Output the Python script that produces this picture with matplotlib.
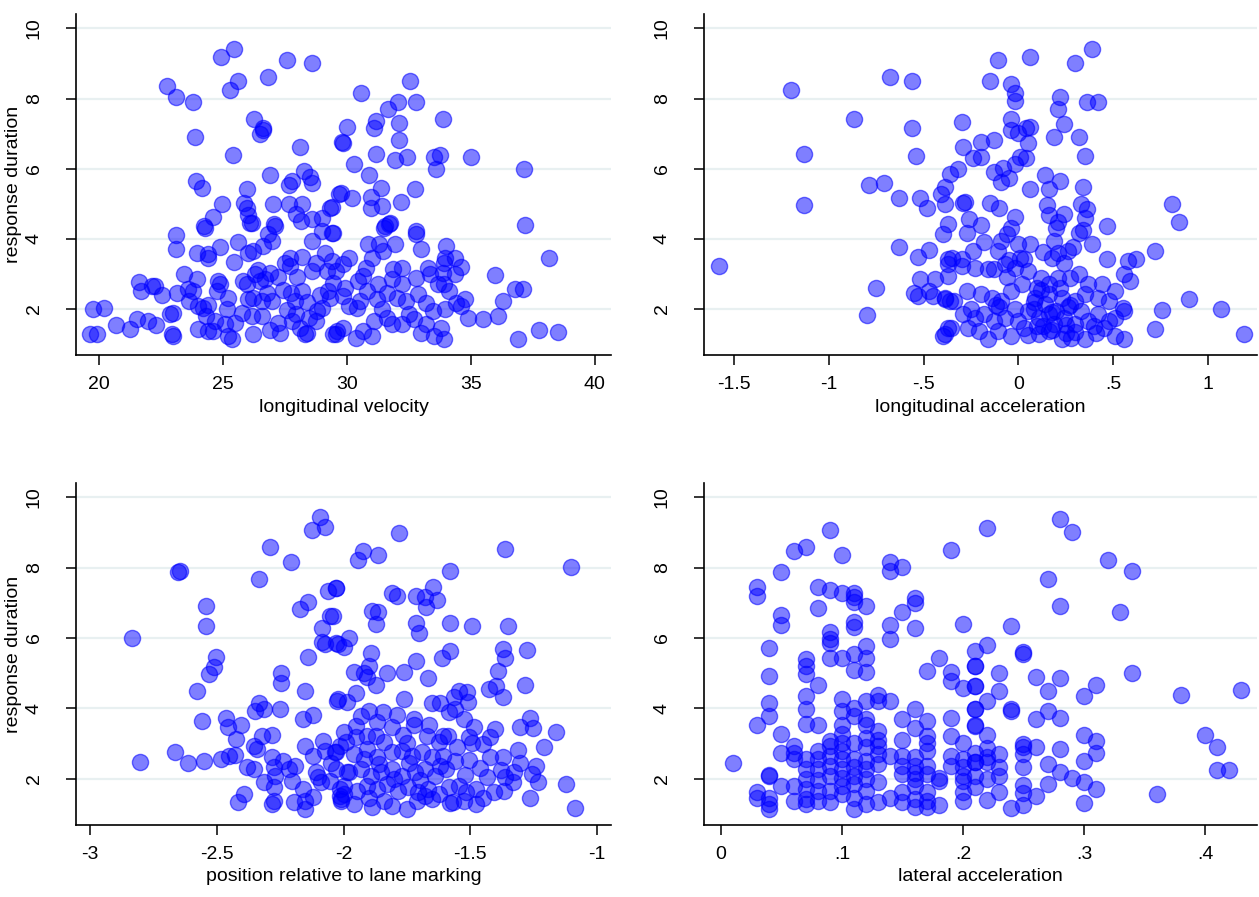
import matplotlib
matplotlib.use('Agg')
import matplotlib.pyplot as plt

plt.rcParams['font.family'] = ['Liberation Sans', 'DejaVu Sans']

# response duration vs longitudinal velocity
vel_x = [22.74, 23.1, 23.8, 23.87, 24.9, 25.44, 25.6, 25.3, 26.8, 27.6, 28.6, 26.25, 26.6, 26.5, 26.6,
         25.4, 28.1, 23.9, 24.15, 26.9, 28.27, 27.8, 27.66, 28.5, 28.6, 25.97, 24.96, 24.6, 24.23, 25.85,
         25.97, 26.0, 26.17, 27.0, 27.06, 27.66, 28.2, 27.94, 28.15, 28.6, 29.0, 29.3, 29.68,
         30.56, 32.54, 32.06, 31.65, 32.78, 33.87, 30.0, 31.17, 31.1, 32.1, 32.1, 29.84, 29.8, 31.17,
         31.94, 32.42, 33.5, 33.75, 33.6, 35.0, 37.14, 30.28, 30.89, 31.37, 29.76, 30.2, 30.97, 30.97,
         31.4, 32.18, 32.74, 29.4, 31.73, 31.53, 37.2, 32.8,
         23.1, 23.1, 24.27, 23.95, 24.4, 24.4, 24.88, 25.6, 25.44, 26.0, 26.2, 26.6, 26.8, 26.97, 27.1,
         26.1, 27.7, 28.2, 27.7, 28.6, 29.0, 29.4, 29.1, 23.43, 23.95, 21.6, 21.7, 22.14, 22.26, 22.54,
         23.14, 23.6, 23.8, 23.63, 24.0, 24.2, 24.4, 24.8, 24.88, 24.76, 25.2, 25.16, 25.8, 25.97, 26.3,
         26.5, 26.7, 26.9, 26.0, 26.2, 26.57, 26.77, 26.97, 25.77, 26.17, 26.57, 27.4, 27.76, 27.9, 28.2,
         27.6, 27.94, 28.47, 28.75, 28.6, 29.2, 29.43, 29.23, 28.75, 19.76, 20.2, 19.64, 19.9, 20.7,
         21.25, 21.53, 21.97, 22.3, 22.86, 23.0, 22.94, 23.0, 24.0, 24.4, 24.6, 24.68, 25.08, 25.2,
         25.36, 26.2, 27.3, 27.8, 28.1, 28.3, 28.4, 29.43, 29.6, 28.8, 29.0, 29.4,
         29.44, 31.5, 31.7, 32.8, 30.85, 31.29, 31.94, 31.45, 30.1, 31.0, 33.97, 34.35, 33.9, 38.16,
         29.84, 29.56, 30.77, 30.65, 30.44, 31.85, 32.2, 31.8, 33.27, 33.35, 33.87, 34.35, 32.78, 35.97,
         31.25, 32.2, 33.67, 33.9, 36.77, 37.1, 36.3, 29.3, 29.84, 30.1, 30.4, 30.52, 31.2, 31.6, 32.0,
         32.4, 32.86, 33.2, 33.45, 33.95, 34.4, 34.75, 34.6, 34.9, 35.5, 36.1, 29.84, 29.56, 30.36,
         30.65, 31.0, 31.1, 31.6, 31.8, 32.2, 32.5, 33.0, 33.2, 33.5, 33.8, 33.9, 36.9, 37.76, 38.5,
         26.4, 27.2, 27.5, 28.0, 28.4, 28.9, 27.2, 26.9, 25.5, 24.3, 29.9, 30.8, 31.4, 32.7, 34.1,
         34.6, 34.0, 33.0]
vel_y = [8.37, 8.03, 7.91, 6.91, 9.17, 9.4, 8.49, 8.23, 8.6, 9.09, 9.0, 7.43, 7.1, 7.0, 7.15,
         6.4, 6.63, 5.66, 5.46, 5.83, 5.94, 5.66, 5.54, 5.77, 5.6, 5.43, 5.0, 4.63, 4.37, 5.03,
         4.89, 4.69, 4.46, 5.0, 4.43, 5.0, 5.0, 4.71, 4.51, 4.57, 4.6, 4.89, 5.29,
         8.17, 8.51, 7.89, 7.69, 7.91, 7.43, 7.2, 7.37, 7.17, 7.29, 6.83, 6.74, 6.76, 6.43,
         6.26, 6.34, 6.34, 6.4, 6.0, 6.34, 6.0, 6.14, 5.83, 5.46, 5.31, 5.17, 5.2, 4.89,
         4.94, 5.06, 5.43, 4.91, 4.46, 4.37, 4.4, 4.23,
         4.11, 3.71, 4.31, 3.6, 3.57, 3.46, 3.77, 3.91, 3.34, 3.6, 3.66, 3.8, 4.14, 3.94, 4.37,
         4.46, 3.46, 3.49, 3.23, 3.94, 4.23, 4.17, 3.6, 3.0, 2.86, 2.77, 2.51, 2.66, 2.66, 2.4,
         2.46, 2.57, 2.51, 2.23, 2.09, 2.03, 2.11, 2.8, 2.71, 2.51, 2.31, 2.0, 2.8, 2.71, 3.0,
         2.8, 2.86, 3.03, 2.29, 2.31, 2.23, 2.46, 2.23, 1.89, 1.8, 1.8, 2.54, 2.46, 2.23, 2.51,
         1.97, 1.86, 1.74, 1.66, 3.09, 3.09, 2.74, 2.51, 3.31, 2.0, 2.03, 1.29, 1.29, 1.54,
         1.43, 1.71, 1.66, 1.54, 1.86, 1.89, 1.29, 1.23, 1.43, 1.37, 1.37, 1.66, 1.57, 1.23,
         1.14, 1.29, 1.31, 1.66, 1.46, 1.29, 1.31, 1.29, 1.37, 1.94, 2.03, 3.37,
         4.17, 4.31, 4.43, 4.14, 3.86, 3.86, 3.86, 3.66, 3.46, 3.46, 3.46, 3.46, 3.31, 3.46,
         3.29, 3.09, 3.17, 2.94, 2.8, 3.14, 3.17, 2.86, 3.17, 3.0, 3.03, 3.0, 2.89, 2.97,
         2.71, 2.71, 2.71, 2.71, 2.57, 2.57, 2.23, 2.31, 2.37, 2.09, 2.03, 2.23, 2.29, 2.46, 2.31,
         2.23, 2.43, 2.17, 1.94, 2.0, 2.17, 2.29, 2.09, 1.74, 1.71, 1.8, 1.46, 1.29, 1.17,
         1.37, 1.23, 1.66, 1.74, 1.57, 1.57, 1.86, 1.31, 1.57, 1.23, 1.46, 1.14, 1.14, 1.4, 1.34,
         3.1, 2.9, 3.3, 2.9, 2.2, 2.4, 1.6, 1.4, 1.6, 1.8, 2.6, 2.5, 2.0, 1.7, 2.5,
         3.2, 3.8, 3.7]

# response duration vs longitudinal acceleration
acc_x = [-1.20, -0.68, -0.56, -0.87, -0.56, -1.13, -0.54, -0.79, -0.71, -0.63, -0.52, -0.48, -0.41,
         -0.39, -0.36, -0.39, -1.13, -0.37, -0.40, -1.58, -0.63, -0.53, -0.47, -0.37, -0.52, -0.44,
         -0.37, -0.75, -0.55, -0.53, -0.47, -0.45, -0.39, -0.36, -0.80, -0.40, -0.37,
         -0.11, 0.06, 0.30, 0.39, -0.15, -0.04, -0.02, -0.02, 0.22, 0.21, 0.24, 0.36, 0.42, -0.30,
         -0.04, -0.04, 0.00, 0.04, 0.06, 0.05, 0.19, 0.32, 0.35, -0.29, -0.20, -0.13, -0.24, -0.20,
         0.01, 0.04, -0.02, -0.32, -0.13, -0.08, -0.09, -0.05, 0.14, 0.22, 0.16, 0.06, 0.34, -0.29,
         -0.28, -0.15, -0.10, 0.15, 0.16, 0.33, 0.36, 0.35, 0.24, 0.21, 0.20, 0.19, -0.02, -0.04,
         -0.06, -0.09, -0.26, -0.20, -0.27, 0.47, 0.32, 0.34, 0.29, 0.39, -0.18, -0.11, 0.00, 0.06,
         0.13, -0.24, -0.35, -0.30, -0.05, 0.01, 0.03, 0.18, 0.21, 0.26, 0.24, 0.47, 0.58, 0.62,
         0.56, 0.59, 0.72, 0.81, 0.85, 0.90, 0.76, 1.07, 0.72, 1.19,
         -0.37, -0.30, -0.23, -0.16, -0.13, -0.07, -0.02, 0.05, 0.12, 0.16, 0.21, 0.27, 0.32, 0.37,
         0.44, 0.51,
         -0.39, -0.34, -0.27, -0.20, -0.14, -0.09, -0.04, 0.02, 0.09, 0.16, 0.23, 0.30, 0.35, 0.42,
         0.48, 0.55,
         -0.29, -0.23, -0.18, -0.13, -0.07, 0.00, 0.05, 0.11, 0.16, 0.19, 0.24, 0.30, 0.37, 0.42,
         0.48, 0.51, 0.56,
         -0.355, -0.265, -0.21, -0.16, -0.11, -0.04, 0.03, 0.11, 0.16, 0.23, 0.28, 0.35, 0.41, 0.51,
         0.56, -0.39,
         -0.25, -0.12, 0.08, 0.13, 0.27, 0.18, 0.10, -0.06, 0.25, 0.40,
         0.08, 0.14, 0.20, 0.26, 0.33, 0.10, 0.18, 0.25, 0.30, -0.02, -0.10, 0.45, 0.12, 0.22, 0.05]
acc_y = [8.23, 8.60, 8.51, 7.43, 7.17, 6.43, 6.37, 5.54, 5.60, 5.17, 5.17, 4.89, 5.29,
         5.49, 5.86, 5.00, 4.97, 4.43, 4.14, 3.23, 3.77, 3.49, 3.69, 3.43, 2.86, 2.86,
         2.94, 2.60, 2.46, 2.37, 2.51, 2.37, 2.29, 2.23, 1.83, 1.23, 1.46,
         9.09, 9.17, 9.00, 9.40, 8.49, 8.40, 8.17, 7.94, 8.03, 7.69, 7.26, 7.89, 7.91, 7.34,
         7.43, 7.09, 7.03, 7.17, 7.20, 6.74, 6.91, 6.91, 6.37, 6.63, 6.77, 6.83, 6.29, 6.34,
         6.34, 6.31, 6.14, 6.00, 5.91, 6.03, 5.63, 5.74, 5.83, 5.66, 5.43, 5.43, 5.49, 5.03,
         5.06, 5.03, 4.89, 4.97, 4.69, 5.00, 4.86, 4.60, 4.71, 4.49, 4.31, 3.94, 4.63, 4.31,
         4.14, 3.94, 4.57, 4.40, 4.17, 4.37, 4.17, 4.26, 3.77, 3.86, 3.91, 3.66, 3.86, 3.86,
         3.63, 3.66, 3.46, 3.43, 3.40, 3.46, 3.43, 3.46, 3.60, 3.66, 3.31, 3.43, 3.37, 3.43,
         3.00, 2.80, 3.66, 5.00, 4.49, 2.29, 1.97, 2.00, 1.43, 1.29,
         3.29, 3.23, 3.17, 3.14, 3.14, 3.29, 3.17, 3.09, 2.89, 2.71, 2.89, 2.89, 3.00, 2.71,
         2.71, 2.51,
         2.31, 2.23, 2.51, 2.43, 2.31, 2.23, 2.51, 2.71, 2.31, 2.43, 2.31, 2.23, 2.43, 2.31,
         2.23, 2.03,
         1.86, 1.74, 1.86, 1.66, 1.74, 1.66, 1.94, 1.74, 1.86, 1.57, 1.74, 1.57, 1.66, 1.86,
         1.66, 1.74, 1.94,
         1.46, 1.46, 1.37, 1.14, 1.37, 1.23, 1.46, 1.29, 1.37, 1.15, 1.17, 1.15, 1.31, 1.23,
         1.15, 1.29,
         2.0, 2.1, 2.2, 1.5, 2.1, 1.9, 2.6, 2.9, 1.3, 1.5,
         2.0, 2.15, 1.95, 2.05, 1.95, 1.5, 1.4, 1.55, 1.35, 2.0, 2.05, 1.45, 2.55, 2.6, 1.25]

# response duration vs position relative to lane marking
pos_x = [-2.093, -2.125, -2.073, -2.29, -2.206, -2.335, -2.653, -2.645, -2.06, -2.03, -2.544, -2.544,
         -2.173, -2.141, -2.052, -2.085, -2.085, -2.073, -2.028, -2.835, -2.504, -2.512, -2.532,
         -2.141, -2.246, -2.246, -2.58, -2.153, -2.024, -2.335, -2.35, -2.315, -2.25, -2.56, -2.464,
         -2.456, -2.403, -2.161, -2.121, -2.423, -2.355, -2.323, -2.282, -2.343, -2.665, -2.802,
         -2.613, -2.552, -2.484, -2.452, -2.427, -2.383, -2.355, -2.282, -2.274, -2.27, -2.315,
         -2.274, -2.153, -2.121, -2.08, -2.073, -2.032, -2.012, -2.214, -2.19, -2.202, -2.161,
         -2.109, -2.089, -2.052, -2.012, -2.391, -2.415, -2.274, -2.282, -2.194, -2.153, -2.153,
         -2.121, -2.012, -2.008,
         -1.782, -1.923, -1.944, -1.863, -1.363, -1.1, -1.581, -2.028, -1.81, -1.79, -1.714, -1.677,
         -1.645, -1.629, -1.673, -1.887, -1.863, -1.871, -1.714, -1.702, -1.581, -1.492, -1.351,
         -2.04, -1.98, -2.02, -2.0, -1.891, -1.899, -1.96, -1.919, -1.907, -1.871, -1.827, -1.762,
         -1.714, -1.665, -1.613, -1.581, -1.371, -1.363, -1.274, -1.391, -1.427, -1.399, -1.371,
         -1.282, -1.952, -2.02, -1.988, -1.762, -1.649, -1.621, -1.565, -1.544, -1.512, -1.508,
         -1.585, -1.56, -1.899, -1.843, -1.79, -1.931, -1.867, -1.81, -1.722, -1.722, -1.661,
         -1.766, -1.524, -1.484, -1.403, -1.423, -1.302, -1.262, -1.25, -1.161, -2.0, -1.952,
         -1.907, -1.871, -1.839, -1.992, -2.028, -1.669, -1.609, -1.589, -1.625, -1.504, -1.492,
         -1.448, -1.21, -1.31, -1.371, -1.504, -1.96, -1.907, -1.867, -1.81, -1.77, -1.73, -1.69,
         -1.649, -1.609, -1.302, -1.242, -1.254, -1.327, -1.363, -1.234, -1.121, -2.028, -1.988,
         -1.931, -1.891, -1.851, -1.81, -1.77, -1.718, -1.677, -1.637, -1.597,
         -2.0, -1.948, -1.907, -1.867, -1.827, -1.786, -1.746, -1.706, -1.665, -1.625, -1.585,
         -1.544, -1.516, -1.476, -1.435, -1.407, -1.367,
         -2.008, -1.96, -1.887, -1.81, -1.75, -1.71, -1.649, -1.569, -1.524, -1.476, -1.262, -1.085,
         -2.05, -1.98, -1.92, -1.86, -1.80, -1.74, -1.70, -1.62, -1.56, -1.52, -1.46, -1.42, -1.38,
         -1.33, -2.10, -2.24, -2.00, -1.90, -1.84, -1.68, -1.58, -1.45, -1.95, -1.75, -1.55]
pos_y = [9.43, 9.07, 9.15, 8.58, 8.16, 7.68, 7.88, 7.9, 7.34, 7.42, 6.91, 6.35,
         6.83, 7.03, 6.63, 6.29, 5.89, 5.84, 5.86, 6.0, 5.47, 5.18, 4.96,
         5.47, 5.01, 4.73, 4.5, 4.48, 4.22, 4.16, 3.91, 3.97, 3.97, 3.63, 3.71,
         3.48, 3.51, 3.68, 3.8, 3.12, 2.92, 3.2, 3.23, 2.83, 2.75, 2.46,
         2.44, 2.49, 2.55, 2.63, 2.66, 2.32, 2.27, 2.61, 2.32, 2.07, 1.9,
         1.76, 2.92, 2.63, 3.06, 2.78, 2.75, 2.92, 2.27, 2.35, 1.92, 1.7,
         2.18, 1.9, 1.92, 1.7, 1.56, 1.33, 1.36, 1.28, 1.33, 1.36, 1.13,
         1.47, 1.5, 1.36,
         8.98, 8.47, 8.22, 8.36, 8.53, 8.02, 7.9, 7.42, 7.28, 7.2, 7.2, 7.17,
         7.45, 7.08, 6.88, 6.77, 6.74, 6.4, 6.43, 6.15, 6.43, 6.35, 6.35,
         6.63, 6.0, 5.84, 5.75, 5.58, 5.21, 5.04, 5.01, 4.9, 4.65, 4.99, 5.04,
         5.33, 4.87, 5.44, 5.64, 5.69, 5.44, 5.67, 5.07, 4.56, 4.62, 4.33,
         4.67, 4.42, 4.25, 4.19, 4.25, 4.16, 4.16, 4.33, 4.5, 4.45, 4.19,
         3.88, 3.97, 3.91, 3.88, 3.8, 3.77, 3.6, 3.48, 3.68, 3.51, 3.51,
         3.23, 3.68, 3.48, 3.4, 3.17, 3.48, 3.71, 3.45, 3.31, 3.31, 3.17,
         3.2, 3.2, 3.03, 3.03, 2.75, 3.2, 3.2, 3.2, 3.03, 3.17, 3.0,
         2.97, 2.89, 2.8, 2.61, 2.52, 2.69, 2.83, 2.61, 2.75, 2.78, 2.63, 2.75,
         2.61, 2.63, 2.44, 2.35, 2.12, 2.18, 2.04, 1.9, 1.84, 2.27, 2.18,
         2.27, 2.07, 2.18, 2.27, 2.07, 2.18, 2.27, 2.07, 2.27,
         1.78, 1.64, 1.78, 1.7, 1.84, 1.64, 1.76, 1.61, 1.7, 1.56, 1.76,
         1.78, 1.61, 1.7, 2.04, 1.61, 1.64,
         1.42, 1.27, 1.19, 1.22, 1.13, 1.36, 1.42, 1.33, 1.36, 1.27, 1.44, 1.16,
         2.45, 2.2, 2.55, 2.4, 2.0, 2.45, 1.95, 2.35, 2.5, 2.1, 2.3, 2.6, 2.25,
         1.9, 2.05, 2.5, 1.55, 1.45, 1.35, 1.5, 1.3, 1.45, 3.5, 3.0, 2.9]

# response duration vs lateral acceleration
lat_x = [0.01, 0.03, 0.03, 0.03, 0.03, 0.03,
         0.04, 0.04, 0.04, 0.04, 0.04, 0.04, 0.04, 0.04, 0.04,
         0.05, 0.05, 0.05, 0.05, 0.05, 0.05,
         0.06, 0.06, 0.06, 0.06, 0.06, 0.06,
         0.07, 0.07, 0.07, 0.07, 0.07, 0.07, 0.07, 0.07, 0.07, 0.07, 0.07, 0.07, 0.07,
         0.08, 0.08, 0.08, 0.08, 0.08, 0.08, 0.08, 0.08, 0.08, 0.08,
         0.09, 0.09, 0.09, 0.09, 0.09, 0.09, 0.09, 0.09, 0.09, 0.09, 0.09, 0.09, 0.09,
         0.10, 0.10, 0.10, 0.10, 0.10, 0.10, 0.10, 0.10, 0.10, 0.10, 0.10, 0.10, 0.10, 0.10,
         0.11, 0.11, 0.11, 0.11, 0.11, 0.11, 0.11, 0.11, 0.11, 0.11, 0.11, 0.11, 0.11, 0.11,
         0.11, 0.11,
         0.12, 0.12, 0.12, 0.12, 0.12, 0.12, 0.12, 0.12, 0.12, 0.12, 0.12, 0.12, 0.12, 0.12,
         0.13, 0.13, 0.13, 0.13, 0.13, 0.13, 0.13, 0.13, 0.13,
         0.14, 0.14, 0.14, 0.14, 0.14, 0.14, 0.14,
         0.15, 0.15, 0.15, 0.15, 0.15, 0.15, 0.15, 0.15, 0.15,
         0.16, 0.16, 0.16, 0.16, 0.16, 0.16, 0.16, 0.16, 0.16, 0.16, 0.16, 0.16,
         0.17, 0.17, 0.17, 0.17, 0.17, 0.17, 0.17, 0.17, 0.17, 0.17,
         0.18, 0.18, 0.18, 0.18,
         0.19, 0.19, 0.19, 0.19, 0.19, 0.19, 0.19,
         0.20, 0.20, 0.20, 0.20, 0.20, 0.20, 0.20, 0.20, 0.20,
         0.21, 0.21, 0.21, 0.21, 0.21, 0.21, 0.21, 0.21, 0.21, 0.21, 0.21, 0.21, 0.21, 0.21,
         0.22, 0.22, 0.22, 0.22, 0.22, 0.22, 0.22, 0.22, 0.22,
         0.23, 0.23, 0.23, 0.23, 0.23, 0.23,
         0.24, 0.24, 0.24, 0.24,
         0.25, 0.25, 0.25, 0.25, 0.25, 0.25, 0.25, 0.25, 0.25,
         0.26, 0.26, 0.26, 0.26,
         0.27, 0.27, 0.27, 0.27, 0.27,
         0.28, 0.28, 0.28, 0.28, 0.28, 0.28,
         0.29, 0.29,
         0.30, 0.30, 0.30, 0.30, 0.30,
         0.31, 0.31, 0.31, 0.31,
         0.32, 0.33, 0.34, 0.34, 0.36, 0.38, 0.40, 0.41, 0.41, 0.42, 0.43]
lat_y = [2.44, 7.44, 7.2, 3.52, 1.61, 1.46,
         5.72, 4.93, 4.14, 3.78, 2.09, 2.06, 1.46, 1.27, 1.13,
         7.87, 6.65, 6.37, 3.26, 2.74, 1.8,
         8.48, 2.93, 2.74, 2.55, 1.8, 1.37,
         8.6, 5.39, 5.2, 4.96, 4.34, 3.97, 3.54, 2.55, 2.27, 1.98, 1.7, 1.42, 1.27,
         7.46, 6.84, 4.65, 3.51, 2.78, 2.55, 2.27, 1.95, 1.66, 1.37,
         9.07, 7.37, 6.18, 5.97, 5.86, 5.43, 3.07, 2.93, 2.64, 2.36, 2.08, 1.66, 1.33,
         8.37, 7.27, 5.43, 4.25, 3.92, 3.51, 3.26, 3.02, 2.78, 2.55, 2.27, 2.03, 1.8, 1.56,
         7.27, 7.17, 7.03, 6.46, 6.32, 5.53, 5.09, 3.78, 3.02, 2.55, 2.32, 2.08, 1.85, 1.46,
         1.13, 4.0,
         6.91, 5.78, 5.43, 5.03, 4.2, 3.68, 3.51, 3.16, 2.5, 2.27, 1.98, 1.66, 1.27, 2.9,
         4.39, 4.2, 3.35, 3.11, 2.93, 2.69, 2.41, 1.89, 1.33,
         8.17, 7.89, 6.37, 5.97, 4.2, 2.64, 1.46,
         8.03, 6.75, 3.7, 3.11, 2.64, 2.36, 2.12, 1.61, 1.33,
         7.13, 7.0, 6.27, 3.97, 3.45, 2.6, 2.36, 2.17, 1.98, 1.8, 1.42, 1.18,
         5.05, 3.63, 3.21, 3.02, 2.78, 2.36, 2.12, 1.61, 1.37, 1.18,
         5.43, 2.03, 1.93, 1.24,
         8.51, 5.03, 4.77, 3.73, 3.21, 2.64, 2.36,
         6.39, 4.58, 3.02, 2.55, 2.32, 2.08, 1.93, 1.61, 1.37,
         5.62, 5.2, 4.63, 3.99, 3.49, 2.74, 2.48, 1.75, 2.08, 5.2, 4.63, 3.97, 3.51, 2.46,
         9.14, 5.8, 4.2, 3.24, 2.86, 2.6, 2.46, 1.4, 2.0,
         5.0, 4.49, 2.32, 2.08, 1.61, 2.7,
         6.35, 3.97, 3.92, 1.15,
         5.6, 5.55, 2.98, 2.9, 2.7, 2.32, 1.82, 1.24, 1.6,
         4.9, 3.68, 2.9, 1.49,
         7.67, 4.49, 3.92, 1.85, 2.4,
         9.38, 6.91, 4.86, 3.73, 2.83, 2.2,
         9.0, 2.03,
         4.34, 3.24, 1.91, 1.3, 2.5,
         4.67, 3.07, 2.72, 1.7,
         8.23, 6.75, 7.91, 5.0, 1.55, 4.39, 3.24, 2.89, 2.25, 2.25, 4.53]

panels = [
    (vel_x, vel_y, 'longitudinal velocity', [20, 25, 30, 35, 40],
     ['20', '25', '30', '35', '40'], (19.07, 40.65), (0.0604, 0.604, 0.4249, 0.380), True),
    (acc_x, acc_y, 'longitudinal acceleration', [-1.5, -1, -0.5, 0, 0.5, 1],
     ['-1.5', '-1', '-.5', '0', '.5', '1'], (-1.66, 1.26), (0.5592, 0.604, 0.4392, 0.380), False),
    (pos_x, pos_y, 'position relative to lane marking', [-3, -2.5, -2, -1.5, -1],
     ['-3', '-2.5', '-2', '-1.5', '-1'], (-3.056, -0.944), (0.0604, 0.0803, 0.4249, 0.381), True),
    (lat_x, lat_y, 'lateral acceleration', [0, 0.1, 0.2, 0.3, 0.4],
     ['0', '.1', '.2', '.3', '.4'], (-0.014, 0.443), (0.5592, 0.0803, 0.4392, 0.381), False),
]

fig = plt.figure(figsize=(12.59, 8.97), dpi=100)
for x, y, xlabel, xt, xtl, xlim, rect, show_ylabel in panels:
    ax = fig.add_axes(rect)
    ax.scatter(x, y, s=135, facecolors=[(0, 0, 1, 0.5)], edgecolors=[(0, 0, 1, 0.55)],
               linewidths=1.0, zorder=3)
    ax.set_xlim(xlim)
    ax.set_ylim(0.68, 10.4)
    ax.set_xticks(xt)
    ax.set_xticklabels(xtl)
    ax.set_yticks([2, 4, 6, 8, 10])
    ax.set_yticklabels(['2', '4', '6', '8', '10'], rotation=90, va='center')
    ax.grid(axis='y', color='#e8f0f1', linewidth=1.6, zorder=0)
    for side in ['top', 'right']:
        ax.spines[side].set_visible(False)
    for side in ['left', 'bottom']:
        ax.spines[side].set_linewidth(1.2)
    ax.tick_params(axis='both', direction='out', length=7, width=1.1, labelsize=14)
    ax.tick_params(axis='x', pad=8)
    ax.tick_params(axis='y', pad=17)
    ax.set_xlabel(xlabel, fontsize=14, labelpad=4)
    if show_ylabel:
        ax.set_ylabel('response duration', fontsize=14, labelpad=3)

plt.savefig('out.png', dpi=100)
